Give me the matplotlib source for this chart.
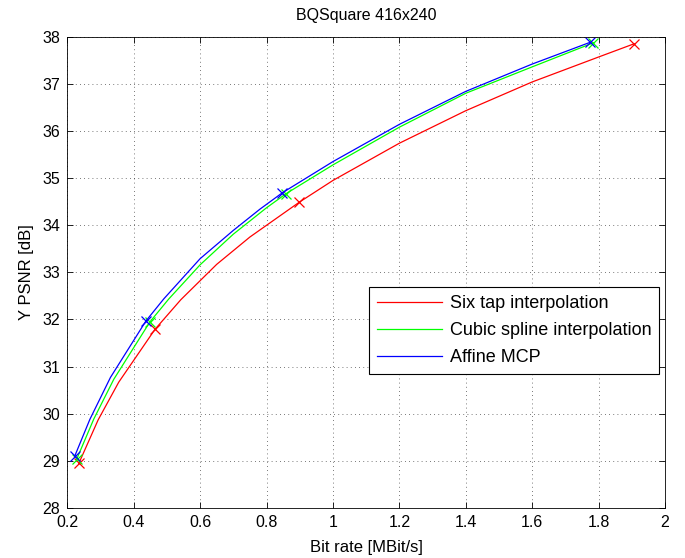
import matplotlib
matplotlib.use("Agg")
import matplotlib.pyplot as plt

plt.rcParams["font.family"] = ["Liberation Sans", "DejaVu Sans"]
plt.rcParams["font.size"] = 11

# measured rate points (MBit/s) and Y PSNR (dB)
six_rate = [0.235, 0.464, 0.899, 1.907]
six_psnr = [28.95, 31.79, 34.49, 37.85]
cubic_rate = [0.228, 0.449, 0.859, 1.784]
cubic_psnr = [29.03, 31.95, 34.67, 37.87]
affine_rate = [0.223, 0.437, 0.848, 1.774]
affine_psnr = [29.11, 31.97, 34.69, 37.88]

# curves
six_curve_rate = [0.235, 0.293, 0.355, 0.464, 0.542, 0.65, 0.75, 0.899,
                  1.0, 1.2, 1.4, 1.6, 1.804, 1.907]
six_curve_psnr = [28.95, 29.87, 30.67, 31.79, 32.42, 33.17, 33.75, 34.49,
                  34.95, 35.74, 36.43, 37.04, 37.58, 37.85]
cubic_curve_rate = [0.228, 0.280, 0.34, 0.449, 0.505, 0.6, 0.7, 0.8, 0.859,
                    1.0, 1.2, 1.4, 1.6, 1.784]
cubic_curve_psnr = [29.03, 29.89, 30.73, 31.95, 32.43, 33.16, 33.81, 34.37,
                    34.67, 35.28, 36.08, 36.80, 37.36, 37.87]
affine_curve_rate = [0.223, 0.268, 0.33, 0.437, 0.491, 0.6, 0.70, 0.78,
                     0.848, 1.0, 1.2, 1.4, 1.6, 1.774]
affine_curve_psnr = [29.11, 29.88, 30.77, 31.97, 32.44, 33.29, 33.89, 34.34,
                     34.69, 35.35, 36.14, 36.84, 37.42, 37.88]

series = [
    ("Six tap interpolation", "#ff0000", six_curve_rate, six_curve_psnr, six_rate, six_psnr),
    ("Cubic spline interpolation", "#00ff00", cubic_curve_rate, cubic_curve_psnr, cubic_rate, cubic_psnr),
    ("Affine MCP", "#0000ff", affine_curve_rate, affine_curve_psnr, affine_rate, affine_psnr),
]

fig = plt.figure(figsize=(6.85, 5.58), dpi=100)
ax = fig.add_axes([0.0982, 0.0896, 0.9708 - 0.0982, 0.9342 - 0.0896])

for label, color, cx, cy, px, py in series:
    ax.plot(cx, cy, color=color, linewidth=0.9, label=label)
    ax.plot(px, py, linestyle="none", marker="x", color=color,
            markersize=7, markeredgewidth=0.9)

ax.set_xlim(0.2, 2)
ax.set_ylim(28, 38)
xticks = [0.2, 0.4, 0.6, 0.8, 1.0, 1.2, 1.4, 1.6, 1.8, 2.0]
ax.set_xticks(xticks)
ax.set_xticklabels(["%g" % t for t in xticks])
ax.set_yticks(range(28, 39))

ax.grid(True, color="k", linestyle=(0, (1, 4)), linewidth=0.6, alpha=0.7)
ax.tick_params(direction="in", top=True, right=True, length=4, width=0.6,
               labelsize=11.5, pad=5)
for sp in ax.spines.values():
    sp.set_linewidth(0.6)

ax.set_title("BQSquare 416x240", fontsize=11.5, pad=12)
ax.set_xlabel("Bit rate [MBit/s]", fontsize=12, labelpad=7)
ax.set_ylabel("Y PSNR [dB]", fontsize=12, labelpad=6)

leg = ax.legend(loc="upper right", bbox_to_anchor=(659.3 / 685, 1 - 287 / 558),
                bbox_transform=fig.transFigure, borderaxespad=0,
                fancybox=False, edgecolor="k", framealpha=1,
                handlelength=3.6, handletextpad=0.4, labelspacing=0.55,
                borderpad=0.45, fontsize=13)
leg.get_frame().set_linewidth(0.8)

fig.savefig("out.png", dpi=100)
